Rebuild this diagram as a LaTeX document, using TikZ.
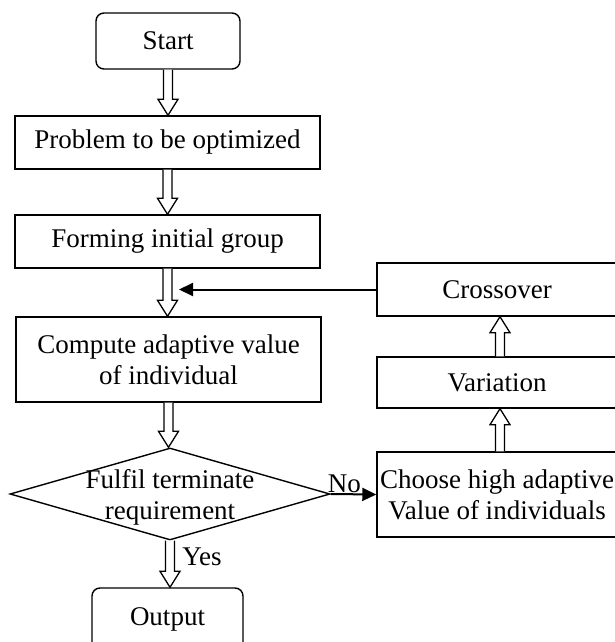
\documentclass[tikz,border=0pt]{standalone}
\usepackage{fontspec}
\setmainfont{Liberation Serif}
\usetikzlibrary{calc,shapes.geometric,arrows.meta}

\tikzset{
  box/.style={draw, line width=1.4pt, minimum width=305pt, minimum height=53pt, inner sep=0pt, align=center},
  rbox/.style={box, rounded corners=8pt, minimum width=144pt, minimum height=56pt},
  hollow/.style={draw, line width=1.3pt, fill=white},
  flow/.style={line width=2pt, -{Triangle[length=14pt,width=13pt]}}
}
% vertical outlined arrow from #1 to #2
\newcommand{\fatarrow}[2]{%
  \draw[hollow] let \p1=(#1), \p2=(#2), \n1={sign(\y2-\y1)} in
    ({\x1-4.5pt},\y1) -- ({\x1-4.5pt},{\y2-(\n1)*16pt}) -- ({\x1-10pt},{\y2-(\n1)*16pt}) -- (\x1,\y2)
    -- ({\x1+10pt},{\y2-(\n1)*16pt}) -- ({\x1+4.5pt},{\y2-(\n1)*16pt}) -- ({\x1+4.5pt},\y1);}

\begin{document}
\begin{tikzpicture}[x=1pt,y=-1pt, every node/.style={font=\fontsize{27}{31}\selectfont}]
  \useasboundingbox (0,0) rectangle (615,642);
  \node[rbox] (start) at (168,41) {Start};
  \node[box] (prob) at (167.5,142.5) {Problem to be optimized};
  \node[box] (form) at (167.5,241.5) {Forming initial group};
  \node[box, minimum height=85pt] (comp) at (168.5,359.5) {Compute adaptive value\\of individual};
  \node[draw, diamond, line width=1.4pt, minimum width=320pt, minimum height=92pt, inner sep=0pt,
        label={[align=center, yshift=-3pt]center:Fulfil terminate\\requirement}] (dec) at (170,494) {};
  \node[rbox, minimum width=151pt, minimum height=62pt] (out) at (167.5,619) {Output};
  \node[box, minimum width=240pt] (cross) at (497,289.5) {Crossover};
  \node[box, minimum width=240pt, minimum height=51pt] (var) at (497,382.5) {Variation};
  \node[box, minimum width=240pt, minimum height=85pt] (choose) at (497,494.5) {Choose high adaptive\\Value of individuals};
  \coordinate (join) at (179,289.5);

  \fatarrow{start.south}{prob.north}
  \fatarrow{prob.south}{form.north}
  \fatarrow{form.south}{comp.north}
  \fatarrow{comp.south}{dec.north}
  \fatarrow{dec.south}{out.north}
  \node (yes) at (202,557) {Yes};
  \fatarrow{[xshift=3pt]choose.north}{[xshift=3pt]var.south}
  \fatarrow{[xshift=3pt]var.north}{[xshift=3pt]cross.south}

  \draw[flow] (cross.west) -- (join);
  \draw[flow] (dec.east) -- node[above, inner sep=0pt, pos=0.3] (no) {No} (choose.west);
\end{tikzpicture}
\end{document}
